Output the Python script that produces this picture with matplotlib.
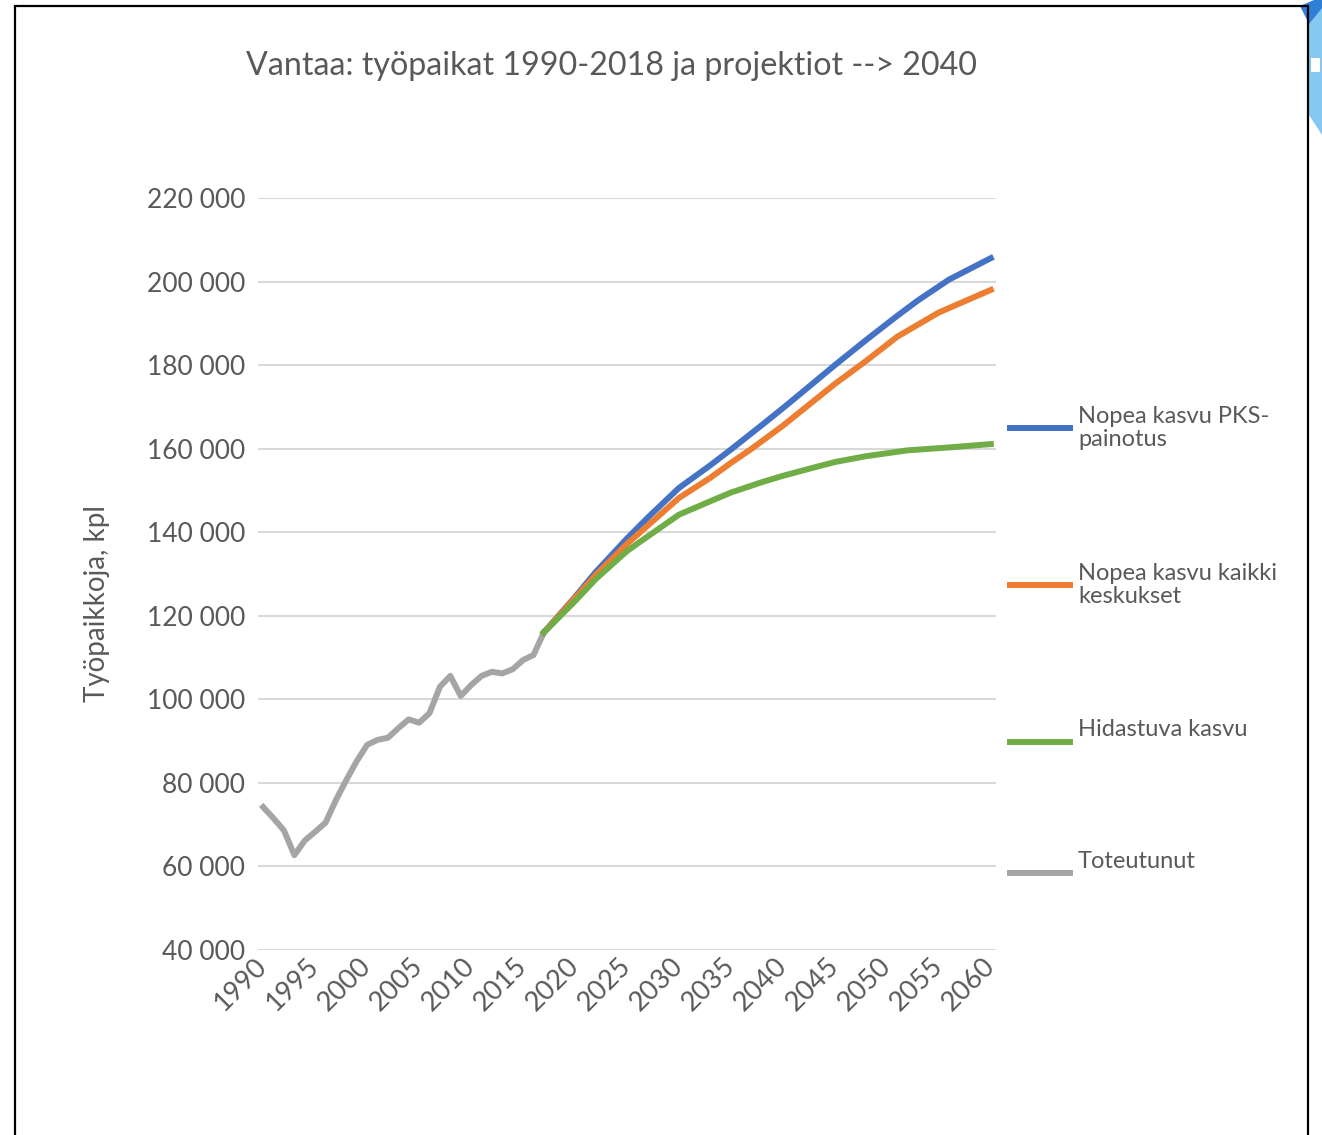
import matplotlib
matplotlib.use("Agg")
import matplotlib.pyplot as plt
from matplotlib.lines import Line2D
from matplotlib.patches import Rectangle, Polygon

plt.rcParams['font.family'] = ['Lato', 'DejaVu Sans']

# ---- data ----
hist_years = list(range(1990, 2018))
hist_vals = [74200, 71500, 68600, 62700, 66200, 68300, 70500, 75900, 80700, 85200,
             89100, 90300, 90800, 93100, 95200, 94400, 96700, 103000, 105600, 100800,
             103400, 105600, 106600, 106200, 107200, 109400, 110600, 116000]

blue_years = [2017, 2020, 2022, 2025, 2027, 2030, 2033, 2035, 2038, 2040, 2042, 2045,
              2048, 2051, 2053, 2056, 2060]
blue_vals = [116000, 124500, 130500, 138500, 143500, 150600, 156000, 159800, 165700,
             169700, 173800, 180000, 186000, 191800, 195500, 200500, 205600]

orange_years = [2017, 2020, 2022, 2025, 2027, 2030, 2033, 2035, 2037, 2040, 2042, 2045,
                2048, 2051, 2055, 2060]
orange_vals = [116000, 124300, 129800, 137200, 141600, 148200, 153000, 156600, 160000,
               165500, 169500, 175500, 181000, 186800, 192600, 198000]

green_years = [2017, 2020, 2022, 2025, 2027, 2030, 2033, 2035, 2038, 2040, 2043, 2045,
               2048, 2052, 2056, 2060]
green_vals = [116000, 123500, 128800, 135500, 139000, 144200, 147400, 149500, 152000,
              153500, 155500, 156800, 158200, 159600, 160300, 161100]

series_names = ["Nopea kasvu PKS-\npainotus", "Nopea kasvu kaikki\nkeskukset",
                "Hidastuva kasvu", "Toteutunut"]
colors = ["#4472C4", "#ED7D31", "#70AD47", "#A5A5A5"]

xticks = list(range(1990, 2061, 5))
yticks = list(range(40000, 220001, 20000))

title = "Vantaa: työpaikat 1990-2018 ja projektiot --> 2040"
ylabel = "Työpaikkoja, kpl"

text_color = "#595959"

# ---- figure ----
fig = plt.figure(figsize=(13.22, 11.35), dpi=100)
ax = fig.add_axes([258 / 1322, 1 - 950 / 1135, (996 - 258) / 1322, (950 - 198) / 1135])

lw = 4.3
ax.plot(hist_years, hist_vals, color=colors[3], lw=lw, zorder=2)
ax.plot(blue_years, blue_vals, color=colors[0], lw=lw, zorder=3)
ax.plot(orange_years, orange_vals, color=colors[1], lw=lw, zorder=4)
ax.plot(green_years, green_vals, color=colors[2], lw=lw, zorder=5)

ax.set_xlim(1989.5, 2060.5)
ax.set_ylim(40000, 220000)
ax.set_yticks(yticks)
ax.set_yticklabels([f"{v:,}".replace(",", " ") for v in yticks])
ax.set_xticks(xticks)
ax.set_xticklabels([str(x) for x in xticks])
ax.grid(axis='y', color='#D9D9D9', lw=1.5, zorder=0)
ax.set_axisbelow(True)
for s in ax.spines.values():
    s.set_visible(False)
ax.tick_params(axis='both', length=0, labelsize=19, colors=text_color)
ax.tick_params(axis='y', pad=9)
ax.tick_params(axis='x', labelsize=19.5, pad=9)
for lab in ax.get_xticklabels():
    lab.set_rotation(45)
    lab.set_ha('right')
    lab.set_va('center')
    lab.set_rotation_mode('anchor')

fig.text(97 / 1322, 1 - 603 / 1135, ylabel, fontsize=20, color=text_color,
         rotation=90, ha='center', va='center')

fig.text(612 / 1322, 1 - 66 / 1135, title, fontsize=23.2, color=text_color,
         ha='center', va='center')

# legend (manual, Excel-like spread)
leg_y = [428, 585, 742, 873]
for name, c, y in zip(series_names, colors, leg_y):
    fig.add_artist(Line2D([1010 / 1322, 1070 / 1322], [1 - y / 1135, 1 - y / 1135],
                          color=c, lw=lw, transform=fig.transFigure))
    nlines = name.count("\n") + 1
    ty = y - 12 if nlines == 1 else y
    fig.text(1078 / 1322, 1 - ty / 1135, name, fontsize=17, color=text_color,
             ha='left', va='center', linespacing=1.12)

# outer frame
fig.add_artist(Rectangle((15 / 1322, -0.02), (1308 - 15) / 1322, 1.02 - 6 / 1135,
                         fill=False, ec='black', lw=1.6, transform=fig.transFigure,
                         zorder=10))

# decorative fragment at top-right corner
fig.add_artist(Polygon([[1309 / 1322, 1 - 22 / 1135], [1.0, 1 - 5 / 1135],
                        [1.0, 1 - 135 / 1135], [1309 / 1322, 1 - 115 / 1135]],
                       closed=True, fc='#86C8F2', ec='none', transform=fig.transFigure))
fig.add_artist(Polygon([[1300 / 1322, 1 - 6 / 1135], [1314 / 1322, 1.0], [1.0, 1.0],
                        [1.0, 1 - 8 / 1135], [1309 / 1322, 1 - 24 / 1135]],
                       closed=True, fc='#2F7FD6', ec='none', transform=fig.transFigure))
fig.add_artist(Rectangle((1311 / 1322, 1 - 72 / 1135), 9 / 1322, 14 / 1135,
                         fc='white', ec='none', transform=fig.transFigure))

fig.savefig("out.png", dpi=100, facecolor='white')
